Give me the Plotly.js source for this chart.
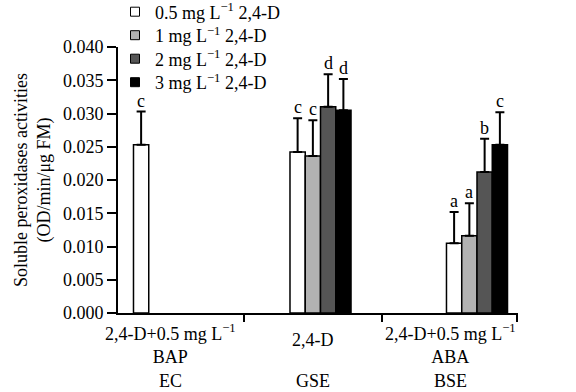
<!DOCTYPE html>
<html>
<head>
<meta charset="utf-8">
<script src="https://cdn.plot.ly/plotly-3.0.1.min.js"></script>
<style>html,body{margin:0;padding:0;background:#fff;}#chart{width:576px;height:392px;}</style>
</head>
<body>
<div id="chart"></div>
<script>
// ---- data ----
const groups = ['EC', 'GSE', 'BSE'];
const groupLabels = ['2,4-D+0.5 mg L<sup>−1</sup><br>BAP', '2,4-D', '2,4-D+0.5 mg L<sup>−1</sup><br>ABA'];
const seriesNames = ['0.5 mg L<sup>−1</sup> 2,4-D', '1 mg L<sup>−1</sup> 2,4-D', '2 mg L<sup>−1</sup> 2,4-D', '3 mg L<sup>−1</sup> 2,4-D'];
const v05 = [0.0253, 0.0242, 0.0105];
const v1  = [null, 0.0236, 0.0116];
const v2  = [null, 0.0310, 0.0212];
const v3  = [null, 0.0305, 0.0253];
const e05 = [0.0050, 0.0051, 0.0047];
const e1  = [null, 0.0054, 0.0049];
const e2  = [null, 0.0049, 0.0050];
const e3  = [null, 0.0047, 0.0049];
const l05 = ['c', 'c', 'a'];
const l1  = ['', 'c', 'a'];
const l2  = ['', 'd', 'b'];
const l3  = ['', 'd', 'c'];
const yTicks = [0, 0.005, 0.010, 0.015, 0.020, 0.025, 0.030, 0.035, 0.040];

// ---- style ----
const colors = ['#ffffff', '#b2b2b2', '#555555', '#000000'];
const FONT = 'Liberation Serif';
const FS = 18;
const values = [v05, v1, v2, v3];
const errs = [e05, e1, e2, e3];
const letters = [l05, l1, l2, l3];

const W = 576, H = 392;
const margin = {l: 118, r: 58, t: 47, b: 79, autoexpand: false};
const plotW = W - margin.l - margin.r;
const plotH = H - margin.t - margin.b;
const xRange = [-0.294, 2.262];
const bargap = 0.61;
const slotPx = (1 - bargap) / 4 * plotW / (xRange[1] - xRange[0]);
const legendRow0 = 12, legendStep = 23.5;

const traces = [];
values.forEach((vals, i) => {
  traces.push({
    type: 'bar', x: groups, y: vals, name: seriesNames[i], showlegend: false,
    marker: {color: colors[i], line: {color: '#000', width: 1.5}},
    error_y: {type: 'data', array: errs[i], arrayminus: vals.map(() => 0), symmetric: false,
              color: '#000', thickness: 2, width: 4.5}
  });
});
const legendKeys = ['legend', 'legend2', 'legend3', 'legend4'];
values.forEach((vals, i) => {
  traces.push({
    type: 'scatter', mode: 'markers', x: [null], y: [null], name: seriesNames[i],
    legend: legendKeys[i],
    marker: {symbol: 'square', size: 9, color: colors[i], line: {color: '#000', width: 1}},
    hoverinfo: 'skip'
  });
});

const annotations = [];
values.forEach((vals, i) => {
  vals.forEach((v, j) => {
    if (v === null || !letters[i][j]) return;
    annotations.push({
      xref: 'x', yref: 'y', x: groups[j], y: v + errs[i][j],
      xshift: (i - 1.5) * slotPx, yshift: -1, yanchor: 'bottom',
      text: letters[i][j], showarrow: false, font: {family: FONT, size: FS, color: '#000'}
    });
  });
});
const labelX = [0.13, 0.4875, 0.83];
groupLabels.forEach((t, j) => {
  const two = t.indexOf('<br>') >= 0;
  annotations.push({
    xref: 'paper', yref: 'paper', x: labelX[j], y: two ? -0.022 : -0.102,
    yanchor: two ? 'top' : 'middle', xanchor: 'center',
    text: t, showarrow: false, font: {family: FONT, size: FS, color: '#000'}
  });
  annotations.push({
    xref: 'paper', yref: 'paper', x: labelX[j], y: -0.255, yanchor: 'middle', xanchor: 'center',
    text: groups[j], showarrow: false, font: {family: FONT, size: FS, color: '#000'}
  });
});
annotations.push({
  xref: 'paper', yref: 'paper', x: (33 - margin.l) / plotW, y: 0.5, xanchor: 'center', yanchor: 'middle',
  textangle: -90, text: 'Soluble peroxidases activities<br>(OD/min/μg FM)', showarrow: false,
  font: {family: FONT, size: FS, color: '#000'}
});

const layout = {
  width: W, height: H, margin: margin,
  paper_bgcolor: '#fff', plot_bgcolor: '#fff',
  font: {family: FONT, size: FS, color: '#000'},
  barmode: 'group', bargap: bargap, bargroupgap: 0,
  showlegend: true,
  xaxis: {type: 'category', range: xRange, showline: true, linecolor: '#000', linewidth: 2,
          tickmode: 'array', tickvals: [0.51, 1.39, 2.255], ticktext: ['', '', ''],
          ticks: 'outside', ticklen: 7, tickwidth: 2, tickcolor: '#000',
          showgrid: false, zeroline: false, fixedrange: true},
  yaxis: {range: [0, 0.040], tickmode: 'array', tickvals: yTicks, ticktext: yTicks.map(v => v.toFixed(3)),
          showline: true, linecolor: '#000', linewidth: 2, ticks: 'outside', ticklen: 9, tickwidth: 2,
          tickcolor: '#000', showgrid: false, zeroline: false, tickfont: {family: FONT, size: FS, color: '#000'}},
  annotations: annotations
};
legendKeys.forEach((k, i) => {
  const rowY = legendRow0 + i * legendStep;
  layout[k] = {x: -0.0075, y: 1 + (margin.t - rowY) / plotH, xanchor: 'left', yanchor: 'middle',
               bgcolor: 'rgba(0,0,0,0)', font: {family: FONT, size: FS, color: '#000'},
               itemwidth: 30, borderwidth: 0};
});

Plotly.newPlot('chart', traces, layout, {displayModeBar: false, staticPlot: true});
</script>
</body>
</html>
